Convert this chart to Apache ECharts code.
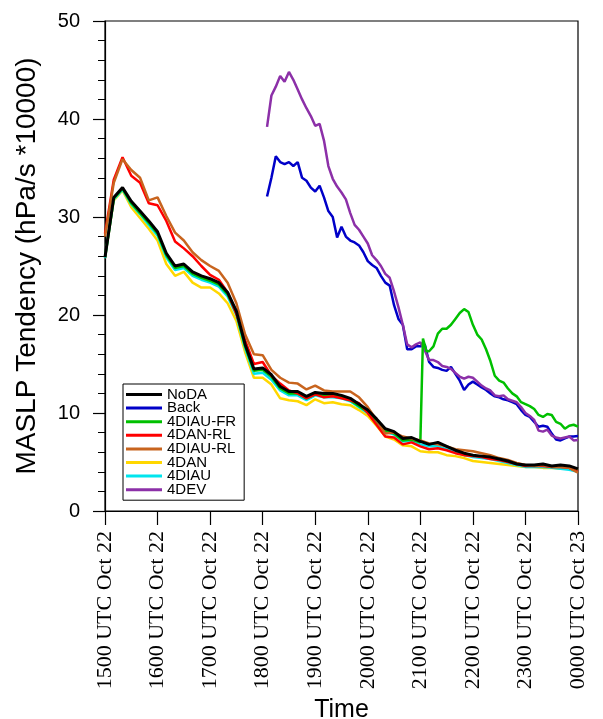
<!DOCTYPE html>
<html><head><meta charset="utf-8">
<script src="https://cdn.jsdelivr.net/npm/echarts@6/dist/echarts.min.js"></script>
<style>html,body{margin:0;padding:0;background:#fff}#c{width:603px;height:719px}</style>
</head><body><div id="c"></div>
<script>
const tickLabels = ['1500 UTC Oct 22','1600 UTC Oct 22','1700 UTC Oct 22','1800 UTC Oct 22','1900 UTC Oct 22',
  '2000 UTC Oct 22','2100 UTC Oct 22','2200 UTC Oct 22','2300 UTC Oct 22','0000 UTC Oct 23'];

// minutes after 1500 UTC Oct 22
const minutes = [0,10,20,30,40,50,60,70,80,90,100,110,120,130,140,150,160,170,180,190,200,210,220,230,240,
  250,260,270,280,290,300,310,320,330,340,350,360,370,380,390,400,410,420,430,440,450,460,470,480,490,500,
  510,520,530,540];

const noda = [25.9, 32.0, 33.0, 31.6, 30.6, 29.6, 28.5, 26.3, 25.0, 25.2,
  24.4, 24.0, 23.7, 23.3, 22.3, 20.4, 17.0, 14.5, 14.6, 13.9,
  12.7, 12.2, 12.2, 11.7, 12.1, 12.0, 12.0, 11.8, 11.5, 10.9,
  10.3, 9.4, 8.4, 8.1, 7.4, 7.5, 7.1, 6.8, 7.0, 6.6,
  6.2, 5.9, 5.7, 5.6, 5.5, 5.3, 5.1, 4.8, 4.7, 4.7,
  4.8, 4.6, 4.7, 4.6, 4.3];

const diau = [25.8, 31.8, 32.8, 31.3, 30.3, 29.2, 28.1, 25.9, 24.6, 24.8,
  24.0, 23.6, 23.3, 22.9, 21.9, 20.0, 16.6, 14.0, 14.1, 13.4,
  12.3, 11.8, 11.8, 11.3, 11.8, 11.6, 11.6, 11.5, 11.2, 10.6,
  10.0, 9.1, 8.1, 7.8, 7.1, 7.2, 6.8, 6.6, 6.6, 6.3,
  6.0, 5.7, 5.5, 5.4, 5.3, 5.1, 4.9, 4.7, 4.5, 4.5,
  4.5, 4.4, 4.3, 4.2, 4.0];

const dan = [25.8, 31.7, 32.7, 31.0, 29.9, 28.8, 27.6, 25.2, 24.0, 24.4,
  23.3, 22.8, 22.8, 22.2, 21.2, 19.4, 16.2, 13.6, 13.6, 12.9,
  11.5, 11.3, 11.2, 10.8, 11.4, 11.0, 11.1, 10.9, 10.8, 10.3,
  9.7, 8.7, 7.6, 7.3, 6.7, 6.6, 6.1, 6.0, 6.0, 5.7,
  5.6, 5.4, 5.1, 5.0, 4.9, 4.8, 4.7, 4.6, 4.5, 4.5,
  4.4, 4.4, 4.3, 4.3, 4.2];

const danRL = [28.3, 33.8, 36.1, 34.2, 33.5, 31.4, 31.2, 29.6, 27.5, 26.8,
  26.0, 25.0, 24.1, 23.6, 22.3, 20.1, 17.4, 15.0, 15.2, 13.8,
  13.0, 12.3, 12.0, 11.5, 11.9, 11.6, 11.7, 11.5, 11.3, 11.0,
  10.0, 8.8, 7.6, 7.5, 6.8, 7.0, 6.6, 6.3, 6.4, 6.2,
  5.9, 5.7, 5.6, 5.5, 5.3, 5.2, 5.0, 4.8, 4.6, 4.6,
  4.6, 4.5, 4.5, 4.4, 4.0];

const diauRL = [28.0, 33.5, 35.9, 34.8, 34.0, 31.7, 32.0, 30.1, 28.4, 27.6,
  26.4, 25.6, 25.0, 24.5, 23.3, 21.2, 18.0, 16.0, 15.9, 14.4,
  13.6, 13.1, 13.0, 12.4, 12.8, 12.3, 12.2, 12.2, 12.2, 11.6,
  10.6, 9.3, 7.9, 8.0, 7.6, 7.4, 7.2, 6.9, 6.8, 6.6,
  6.3, 6.2, 6.1, 5.9, 5.7, 5.4, 5.2, 4.9, 4.7, 4.6,
  4.7, 4.5, 4.5, 4.4, 3.9];

const frMinutes = [0,10,20,30,40,50,60,70,80,90,100,110,120,130,140,150,160,170,180,190,200,210,220,230,240,
  250,260,270,280,290,300,310,320,330,340,350,360,363,367,370,375,380,385,390,395,400,405,410,415,420,425,430,
  435,440,445,450,455,460,465,470,475,480,485,490,495,500,505,510,515,520,525,530,535,540];
const diauFR = [25.9, 31.9, 32.9, 31.4, 30.4, 29.4, 28.3, 26.1, 24.8, 25.0,
  24.2, 23.8, 23.5, 23.1, 22.1, 20.2, 16.8, 14.3, 14.4, 13.7,
  12.5, 12.0, 12.0, 11.5, 11.9, 11.8, 11.8, 11.6, 11.3, 10.7,
  10.1, 9.2, 8.2, 7.9, 7.2, 7.3, 7.0,
  17.6, 16.3, 16.3, 16.8, 18.1, 18.6, 18.6, 19.0, 19.6, 20.2, 20.6, 20.3, 19.0, 18.0, 17.5,
  16.5, 15.3, 13.8, 13.3, 13.1, 12.5, 12.0, 11.7, 11.1, 10.9, 10.7, 10.4, 9.8, 9.6, 9.9, 9.8,
  9.1, 8.9, 8.4, 8.7, 8.8, 8.6];

const lateMinutes = [185,190,195,200,205,210,215,220,225,230,235,240,245,250,255,260,265,270,275,280,
  285,290,295,300,305,310,315,320,325,330,335,340,345,350,355,360,365,370,375,380,
  385,390,395,400,405,410,415,420,425,430,435,440,445,450,455,460,465,470,475,480,
  485,490,495,500,505,510,515,520,525,530,535,540];
const back = [32.1, 34.0, 36.2, 35.6, 35.4, 35.6, 35.2, 35.6, 34.0, 33.7,
  33.0, 32.6, 33.2, 32.0, 30.6, 30.0, 27.9, 29.0, 28.0, 27.6,
  27.4, 27.1, 26.4, 25.5, 25.1, 24.8, 24.0, 23.3, 23.0, 21.0,
  19.6, 19.0, 16.5, 16.5, 16.8, 16.8, 17.0, 15.2, 14.7, 14.6,
  14.4, 14.3, 14.7, 14.0, 13.3, 12.35, 12.9, 13.2, 12.9, 12.6,
  12.35, 12.0, 11.7, 11.6, 11.4, 11.3, 11.1, 10.9, 10.3, 9.8,
  9.6, 9.1, 8.6, 8.7, 8.6, 7.9, 7.3, 7.2, 7.4, 7.6,
  7.6, 7.65];
const dev = [39.2, 42.4, 43.3, 44.4, 43.8, 44.8, 44.0, 43.0, 42.0, 41.1,
  40.3, 39.3, 39.5, 37.8, 35.2, 33.9, 33.1, 32.5, 31.8, 30.4,
  29.2, 28.7, 28.0, 27.3, 26.1, 25.6, 25.0, 24.2, 23.8, 22.4,
  20.8, 19.0, 17.0, 16.7, 17.0, 17.2, 16.4, 15.4, 15.4, 15.2,
  14.8, 14.7, 14.5, 14.1, 13.7, 13.5, 13.7, 13.6, 13.2, 12.8,
  12.5, 12.3, 11.8, 11.7, 11.8, 11.4, 11.25, 11.1, 10.6, 10.0,
  9.7, 9.3, 8.2, 8.1, 8.3, 7.7, 7.5, 7.4, 7.5, 7.6,
  7.2, 7.25];

const legendNames = ['NoDA','Back','4DIAU-FR','4DAN-RL','4DIAU-RL','4DAN','4DIAU','4DEV'];

function pairs(t, v) { return t.map((x, i) => [x, v[i]]); }
function line(name, t, v, color, w) {
  return { name, type: 'line', data: pairs(t, v), symbol: 'none', showSymbol: false,
    lineStyle: { color, width: w }, itemStyle: { color }, animation: false };
}

const chart = echarts.init(document.getElementById('c'));
chart.setOption({
  backgroundColor: '#fff',
  animation: false,
  grid: { left: 105, right: 25, top: 21, bottom: 208, containLabel: false, outerBoundsMode: 'none',
    show: true, borderColor: '#000', borderWidth: 1.2, backgroundColor: 'transparent' },
  legend: {
    data: legendNames, orient: 'vertical', left: 123, top: 384,
    icon: 'rect', itemWidth: 36, itemHeight: 3, itemGap: -1.4,
    padding: [3, 8, 3, 3], borderColor: '#000', borderWidth: 1, backgroundColor: '#fff',
    textStyle: { fontFamily: 'Liberation Sans', fontSize: 15, color: '#000' }
  },
  xAxis: {
    type: 'value', min: 0, max: 540, interval: 60,
    axisLine: { show: true, onZero: false, lineStyle: { color: '#000', width: 1.2 } },
    axisTick: { show: true, inside: false, length: 14, lineStyle: { color: '#000', width: 1.2 } },
    axisLabel: { rotate: 90, fontFamily: 'Liberation Serif', fontSize: 22, color: '#000', margin: 20,
      formatter: v => tickLabels[Math.round(v / 60)] },
    splitLine: { show: false },
    name: 'Time', nameLocation: 'middle', nameGap: 182,
    nameTextStyle: { fontFamily: 'Liberation Sans', fontSize: 25, color: '#000' }
  },
  yAxis: {
    type: 'value', min: 0, max: 50, interval: 10,
    axisLine: { show: true, lineStyle: { color: '#000', width: 1.2 } },
    axisTick: { show: true, inside: false, length: 12, lineStyle: { color: '#000', width: 1.2 } },
    minorTick: { show: true, splitNumber: 5, length: 7, lineStyle: { color: '#000', width: 1 } },
    axisLabel: { fontFamily: 'Liberation Sans', fontSize: 20, color: '#000', margin: 25 },
    splitLine: { show: false }, minorSplitLine: { show: false },
    name: 'MASLP Tendency (hPa/s *10000)', nameLocation: 'middle', nameGap: 64,
    nameTextStyle: { fontFamily: 'Liberation Sans', fontSize: 28, color: '#000' }
  },
  series: [
    line('Back', lateMinutes, back, '#0000c8', 2.5),
    line('4DEV', lateMinutes, dev, '#8c30a8', 2.5),
    line('4DAN', minutes, dan, '#ffd700', 2.5),
    line('4DIAU', minutes, diau, '#00e5ee', 2.5),
    line('4DIAU-FR', frMinutes, diauFR, '#00c000', 2.5),
    line('4DAN-RL', minutes, danRL, '#ff0000', 2.5),
    line('4DIAU-RL', minutes, diauRL, '#c8641e', 2.5),
    line('NoDA', minutes, noda, '#000000', 3)
  ]
});
</script></body></html>
